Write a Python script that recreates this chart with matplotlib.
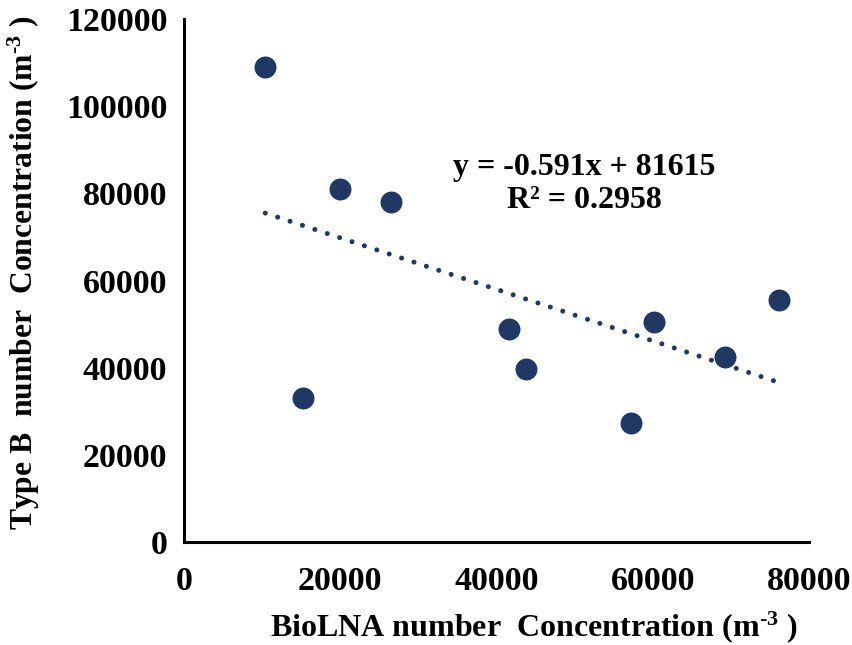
import matplotlib
matplotlib.use("Agg")
import matplotlib.pyplot as plt
import numpy as np

plt.rcParams['font.family'] = ['Liberation Serif', 'DejaVu Serif']
plt.rcParams['font.weight'] = 'bold'
plt.rcParams['mathtext.fontset'] = 'custom'
plt.rcParams['mathtext.rm'] = 'Liberation Serif:bold'
plt.rcParams['mathtext.bf'] = 'Liberation Serif:bold'
plt.rcParams['mathtext.it'] = 'Liberation Serif:bold'

biolna = [10400, 15200, 20000, 26500, 41600, 43800, 57200, 60200, 69200, 76200]
type_b = [109000, 33000, 81000, 78000, 48900, 39700, 27300, 50500, 42400, 55500]

slope = -0.591
intercept = 81615
r2 = 0.2958

xticks = [0, 20000, 40000, 60000, 80000]
yticks = [0, 20000, 40000, 60000, 80000, 100000, 120000]

navy = '#203864'

fig = plt.figure(figsize=(8.53, 6.45), dpi=100)
ax = fig.add_axes([0.2157, 0.1597, 0.7327, 0.8108])

ax.scatter(biolna, type_b, s=250, color=navy, zorder=3, linewidths=0)

xs = np.linspace(min(biolna), max(biolna), 200)
ax.plot(xs, slope * xs + intercept, color=navy, lw=3.6,
        linestyle=(0, (0.01, 2.6)), dash_capstyle='round', zorder=2)

ax.text(0.64, 0.685, f'y = {slope}x + {intercept}\nR² = {r2}',
        transform=ax.transAxes, ha='center', va='center', fontsize=23,
        fontweight='bold', linespacing=1.2)

ax.set_xlim(0, 80000)
ax.set_ylim(0, 120000)
ax.set_xticks(xticks)
ax.set_yticks(yticks)
ax.set_xticklabels([str(v) for v in xticks], fontsize=24.5, fontweight='bold')
ax.set_yticklabels([str(v) for v in yticks], fontsize=24.5, fontweight='bold')
ax.tick_params(axis='x', length=0, pad=17)
ax.tick_params(axis='y', length=0, pad=12)

for s in ['top', 'right']:
    ax.spines[s].set_visible(False)
for s in ['left', 'bottom']:
    ax.spines[s].set_linewidth(2.2)
    ax.spines[s].set_color('black')

ax.set_xlabel('BioLNA number  Concentration (m$^{\u20103}$ )', fontsize=23,
              fontweight='bold')
ax.xaxis.label.set_verticalalignment('baseline')
ax.xaxis.set_label_coords(0.56, -0.18)
ax.set_ylabel('Type B  number  Concentration (m$^{\u20103}$ )', fontsize=22.8,
              fontweight='bold')
ax.yaxis.label.set_verticalalignment('baseline')
ax.yaxis.set_label_coords(-0.2416, 0.514)

fig.savefig('out.png', dpi=100)
